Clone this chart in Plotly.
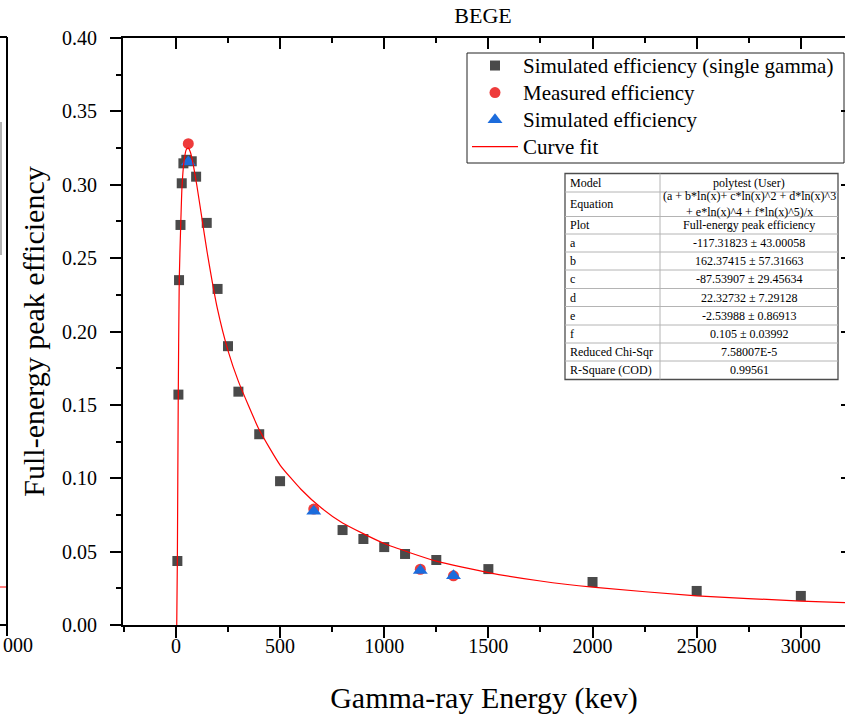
import plotly.graph_objects as go

# ---------------- data ----------------
single_energy = [7, 12, 15, 22, 28, 36, 50, 76, 97, 148, 200, 250, 300, 400, 500,
                 800, 900, 1000, 1100, 1250, 1500, 2000, 2500, 3000]
single_eff = [0.0436, 0.157, 0.235, 0.2726, 0.301, 0.3146, 0.317, 0.316, 0.3055, 0.274,
              0.229, 0.190, 0.159, 0.130, 0.098, 0.0647, 0.0586, 0.0531, 0.0484, 0.0443,
              0.0381, 0.0293, 0.0232, 0.0198]

meas_energy = [59.5, 661.7, 1173.2, 1332.5]
meas_eff = [0.328, 0.079, 0.038, 0.0335]

sim_energy = [59.5, 661.7, 1173.2, 1332.5]
sim_eff = [0.3155, 0.0775, 0.0372, 0.0336]

fit_energy = [4, 7, 11, 16, 23, 29, 39, 50, 60, 70, 80, 100, 125, 150, 200, 250, 300,
              400, 500, 600, 700, 800, 1000, 1250, 1500, 1750, 2000, 2500, 3000, 3250]
fit_eff = [0.0, 0.045, 0.150, 0.235, 0.272, 0.298, 0.316, 0.324, 0.325, 0.322, 0.316,
           0.300, 0.277, 0.254, 0.215, 0.187, 0.166, 0.133, 0.109, 0.0925, 0.0795,
           0.0695, 0.0555, 0.0435, 0.0357, 0.0300, 0.0258, 0.0199, 0.0163, 0.0150]

x_ticks = [0, 500, 1000, 1500, 2000, 2500, 3000]
y_ticks = [0.00, 0.05, 0.10, 0.15, 0.20, 0.25, 0.30, 0.35, 0.40]
y_tick_labels = ["0.00", "0.05", "0.10", "0.15", "0.20", "0.25", "0.30", "0.35", "0.40"]

table_rows = [
    ("Model", "polytest (User)"),
    ("Equation", "(a + b*ln(x)+ c*ln(x)^2 + d*ln(x)^3<br>+ e*ln(x)^4 + f*ln(x)^5)/x"),
    ("Plot", "Full-energy peak efficiency"),
    ("a", "-117.31823 ± 43.00058"),
    ("b", "162.37415 ± 57.31663"),
    ("c", "-87.53907 ± 29.45634"),
    ("d", "22.32732 ± 7.29128"),
    ("e", "-2.53988 ± 0.86913"),
    ("f", "0.105 ± 0.03992"),
    ("Reduced Chi-Sqr", "7.58007E-5"),
    ("R-Square (COD)", "0.99561"),
]

# ---------------- layout geometry ----------------
W, H = 845, 718
L_PX, R_PX, T_PX, B_PX = 123, 845, 38, 625
FONT = "Liberation Serif, Times New Roman, serif"


def px_x(px):
    return (px - L_PX) / (R_PX - L_PX)


def px_y(py):
    return (B_PX - py) / (B_PX - T_PX)


def big(name):
    return "<span style='font-size:21px'>" + name + "</span>"


fig = go.Figure()
fig.add_trace(go.Scatter(
    x=single_energy, y=single_eff, mode="markers",
    name=big("Simulated efficiency (single gamma)"),
    marker=dict(symbol="square", size=10, color="#4a4a4a")))
fig.add_trace(go.Scatter(
    x=meas_energy, y=meas_eff, mode="markers", name=big("Measured efficiency"),
    marker=dict(symbol="circle", size=11, color="#ee3b3b")))
fig.add_trace(go.Scatter(
    x=sim_energy, y=sim_eff, mode="markers", name=big("Simulated efficiency"),
    marker=dict(symbol="triangle-up", size=13, color="#1c6cdc")))
fig.add_trace(go.Scatter(
    x=fit_energy, y=fit_eff, mode="lines", name=big("Curve fit"),
    line=dict(color="#ff0000", width=1.2, shape="spline", smoothing=0.5)))

# invisible trace to carry the mirrored (inside) ticks on top / right
fig.add_trace(go.Scatter(x=[None], y=[None], xaxis="x2", yaxis="y2",
                         showlegend=False, hoverinfo="skip"))

xr = [-254, 3212]
yr = [0, 0.40]

fig.update_layout(
    width=W, height=H,
    margin=dict(l=L_PX, r=W - R_PX, t=T_PX, b=H - B_PX, pad=0),
    paper_bgcolor="white", plot_bgcolor="white",
    font=dict(family=FONT, size=20, color="black"),
    title=dict(text="BEGE", x=px_x(483), xref="paper", xanchor="center",
               y=1 - 15 / H, yref="container", yanchor="middle",
               font=dict(family=FONT, size=22, color="black")),
    showlegend=True,
    legend=dict(x=px_x(467), y=px_y(47), xanchor="left", yanchor="top",
                bgcolor="rgba(0,0,0,0)", borderwidth=0,
                font=dict(family=FONT, size=18.5, color="black"),
                itemwidth=46, tracegroupgap=0),
    xaxis=dict(range=xr, tickmode="array", tickvals=x_ticks,
               showgrid=False, zeroline=False, showline=True, linecolor="black",
               linewidth=2, ticks="outside", ticklen=11, tickwidth=2, tickcolor="black",
               tickfont=dict(family=FONT, size=20), ticklabelstandoff=-9,
               minor=dict(dtick=250, tick0=0, ticks="outside", ticklen=5, tickwidth=2,
                          tickcolor="black", showgrid=False),
               title=dict(text="Gamma-ray Energy (kev)", standoff=31,
                          font=dict(family=FONT, size=30))),
    yaxis=dict(range=yr, tickmode="array", tickvals=y_ticks, ticktext=y_tick_labels,
               showgrid=False, zeroline=False, showline=True, linecolor="black",
               linewidth=2, ticks="outside", ticklen=11, tickwidth=2, tickcolor="black",
               tickfont=dict(family=FONT, size=20), ticklabelstandoff=9,
               minor=dict(dtick=0.025, tick0=0, ticks="outside", ticklen=5, tickwidth=2,
                          tickcolor="black", showgrid=False),
               title=dict(text="Full-energy peak efficiency", standoff=9,
                          font=dict(family=FONT, size=30))),
    xaxis2=dict(overlaying="x", side="top", range=xr, tickmode="array", tickvals=x_ticks,
                showticklabels=False, showgrid=False, zeroline=False, showline=True,
                linecolor="black", linewidth=2, ticks="inside", ticklen=11, tickwidth=2,
                tickcolor="black",
                minor=dict(dtick=250, tick0=0, ticks="inside", ticklen=5, tickwidth=2,
                           tickcolor="black", showgrid=False)),
    yaxis2=dict(overlaying="y", side="right", range=yr, tickmode="array", tickvals=y_ticks,
                showticklabels=False, showgrid=False, zeroline=False, showline=False,
                ticks="inside", ticklen=4, tickwidth=2, tickcolor="black"),
)

shapes = []
annotations = []

# legend frame
shapes.append(dict(type="rect", xref="paper", yref="paper",
                   x0=px_x(467), x1=px_x(844), y0=px_y(163), y1=px_y(53),
                   fillcolor="white", line=dict(color="#222222", width=1), layer="below"))

# ---------------- parameter table ----------------
tab_left, tab_mid, tab_right = 565, 660, 838
row_edges = [173.5, 192, 216.5, 234, 252, 270, 288.5, 306.5, 325, 343, 361, 379.5]
shapes.append(dict(type="rect", xref="paper", yref="paper",
                   x0=px_x(tab_left), x1=px_x(tab_right),
                   y0=px_y(row_edges[-1]), y1=px_y(row_edges[0]),
                   fillcolor="white", line=dict(color="#4d4d4d", width=1.3), layer="above"))
for e in row_edges[1:-1]:
    shapes.append(dict(type="line", xref="paper", yref="paper",
                       x0=px_x(tab_left), x1=px_x(tab_right), y0=px_y(e), y1=px_y(e),
                       line=dict(color="#b4b4b4", width=1), layer="above"))
shapes.append(dict(type="line", xref="paper", yref="paper",
                   x0=px_x(tab_mid), x1=px_x(tab_mid),
                   y0=px_y(row_edges[-1]), y1=px_y(row_edges[0]),
                   line=dict(color="#b4b4b4", width=1), layer="above"))
for i, (k, v) in enumerate(table_rows):
    yc = (row_edges[i] + row_edges[i + 1]) / 2
    annotations.append(dict(text=k, xref="paper", yref="paper", x=px_x(tab_left + 3),
                            y=px_y(yc), xanchor="left", yanchor="middle", showarrow=False,
                            font=dict(family=FONT, size=12, color="black")))
    annotations.append(dict(text=v, xref="paper", yref="paper",
                            x=px_x((tab_mid + tab_right) / 2), y=px_y(yc),
                            xanchor="center", yanchor="middle", showarrow=False,
                            font=dict(family=FONT, size=12, color="black"),
                            align="center"))

# ---------------- edge of the neighbouring panel (cut off on the left) ----------------
edge_col = "black"
shapes.append(dict(type="line", xref="paper", yref="paper",
                   x0=px_x(7), x1=px_x(7), y0=px_y(636), y1=px_y(37),
                   line=dict(color=edge_col, width=2)))
shapes.append(dict(type="line", xref="paper", yref="paper",
                   x0=px_x(0), x1=px_x(7), y0=px_y(37), y1=px_y(37),
                   line=dict(color=edge_col, width=2)))
shapes.append(dict(type="line", xref="paper", yref="paper",
                   x0=px_x(0), x1=px_x(7), y0=px_y(625), y1=px_y(625),
                   line=dict(color=edge_col, width=2)))
shapes.append(dict(type="line", xref="paper", yref="paper",
                   x0=px_x(0), x1=px_x(6), y0=px_y(587), y1=px_y(587),
                   line=dict(color="#ff0000", width=1)))
shapes.append(dict(type="line", xref="paper", yref="paper",
                   x0=px_x(1), x1=px_x(1), y0=px_y(255), y1=px_y(122),
                   line=dict(color="#9a9a9a", width=1.5)))
annotations.append(dict(text="000", xref="paper", yref="paper", x=px_x(1),
                        y=px_y(645), xanchor="left", yanchor="middle", showarrow=False,
                        font=dict(family=FONT, size=20, color="black")))

fig.update_layout(shapes=shapes, annotations=annotations)

fig.write_html("out.html", config={"displayModeBar": False},
               post_script="document.body.style.margin='0px';")
